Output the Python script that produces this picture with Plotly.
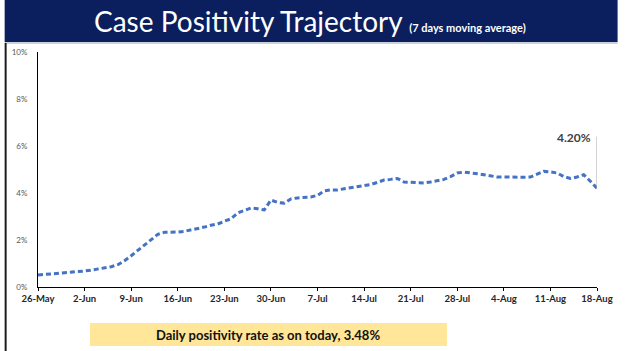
import plotly.graph_objects as go
import pandas as pd

start_date = "2020-05-26"
positivity = [
    0.51, 0.53, 0.55, 0.57, 0.59, 0.62, 0.65, 0.68, 0.72, 0.76,
    0.80, 0.86, 0.95, 1.12, 1.33, 1.55, 1.78, 2.02, 2.24, 2.33,
    2.33, 2.34, 2.37, 2.42, 2.47, 2.55, 2.63, 2.68, 2.80, 2.90,
    3.15, 3.25, 3.36, 3.33, 3.28, 3.70, 3.60, 3.57, 3.75, 3.79,
    3.80, 3.83, 3.90, 4.09, 4.13, 4.13, 4.18, 4.22, 4.26, 4.32,
    4.36, 4.45, 4.55, 4.58, 4.62, 4.47, 4.45, 4.43, 4.43, 4.47,
    4.52, 4.58, 4.70, 4.85, 4.89, 4.87, 4.82, 4.78, 4.72, 4.68,
    4.68, 4.67, 4.67, 4.67, 4.68, 4.80, 4.92, 4.90, 4.85, 4.70,
    4.62, 4.68, 4.78, 4.50, 4.20,
]
dates = pd.date_range(start_date, periods=len(positivity), freq="D")
tick_labels = ["26-May", "2-Jun", "9-Jun", "16-Jun", "23-Jun", "30-Jun", "7-Jul",
               "14-Jul", "21-Jul", "28-Jul", "4-Aug", "11-Aug", "18-Aug"]
tick_dates = list(dates[::7])
y_ticks = [0, 2, 4, 6, 8, 10]
y_labels = ["0%", "2%", "4%", "6%", "8%", "10%"]

W, H = 625, 351
L, R, T, B = 34, 21, 52, 64
pw, ph = W - L - R, H - T - B

def px(x):
    return (x - L) / pw

def py(y):
    return (H - B - y) / ph

fig = go.Figure()
fig.add_trace(go.Scatter(
    x=dates, y=positivity, mode="lines",
    line=dict(color="#4472C4", width=3, dash="5px,3px"),
    hoverinfo="skip", showlegend=False,
))

shapes = [
    # title band
    dict(type="rect", xref="paper", yref="paper", x0=px(0), x1=px(W), y0=py(42), y1=py(0),
         fillcolor="#0B1F5E", line=dict(width=0), layer="below"),
    dict(type="line", xref="paper", yref="paper", x0=px(0), x1=px(W), y0=py(43), y1=py(43),
         line=dict(color="#9AA3B8", width=1)),
    # left frame
    dict(type="rect", xref="paper", yref="paper", x0=px(0), x1=px(2), y0=py(H), y1=py(43),
         fillcolor="#1a1a1a", line=dict(width=0)),
    # yellow box
    dict(type="rect", xref="paper", yref="paper", x0=px(87), x1=px(451), y0=py(346), y1=py(323),
         fillcolor="#FFE699", line=dict(width=0), layer="below"),
    # leader line for last value
    dict(type="line", xref="x", yref="y", x0=dates[-1], x1=dates[-1],
         y0=positivity[-1], y1=positivity[-1] + 2.2,
         line=dict(color="#A6A6A6", width=1)),
]

annotations = [
    dict(xref="paper", yref="paper", x=px(311), y=py(21), xanchor="center", yanchor="middle",
         text="Case Positivity Trajectory <span style='font-size:11px'><b>(7 days moving average)</b></span>",
         showarrow=False, font=dict(family="Lato", size=28, color="white")),
    dict(xref="paper", yref="paper", x=px(269), y=py(335), xanchor="center", yanchor="middle",
         text="<b>Daily positivity rate as on today, 3.48%</b>",
         showarrow=False, font=dict(family="Lato", size=13, color="#111111")),
    dict(xref="x", yref="y", x=dates[-1], y=positivity[-1] + 2.2, xanchor="right", yanchor="middle",
         xshift=-4, yshift=-1,
         text="<b>%.2f%%</b>" % positivity[-1], showarrow=False,
         font=dict(family="Lato", size=12, color="#404040")),
]

fig.update_layout(
    width=W, height=H,
    margin=dict(l=L, r=R, t=T, b=B, pad=0),
    paper_bgcolor="white", plot_bgcolor="white",
    shapes=shapes, annotations=annotations,
    xaxis=dict(
        range=[dates[0], dates[-1]], tickvals=tick_dates, ticktext=tick_labels,
        showgrid=False, zeroline=False, showline=True, linecolor="#000000", linewidth=1,
        ticks="outside", ticklen=3, tickcolor="#000000",
        tickfont=dict(family="Lato", size=9.5, color="#262626", weight="bold"),
    ),
    yaxis=dict(
        range=[0, 10], tickvals=y_ticks, ticktext=y_labels,
        showgrid=False, zeroline=False, showline=True, linecolor="#000000", linewidth=1,
        ticks="", ticklabelstandoff=8,
        tickfont=dict(family="Lato", size=8, color="#595959"),
    ),
)

fig.write_html("out.html")
